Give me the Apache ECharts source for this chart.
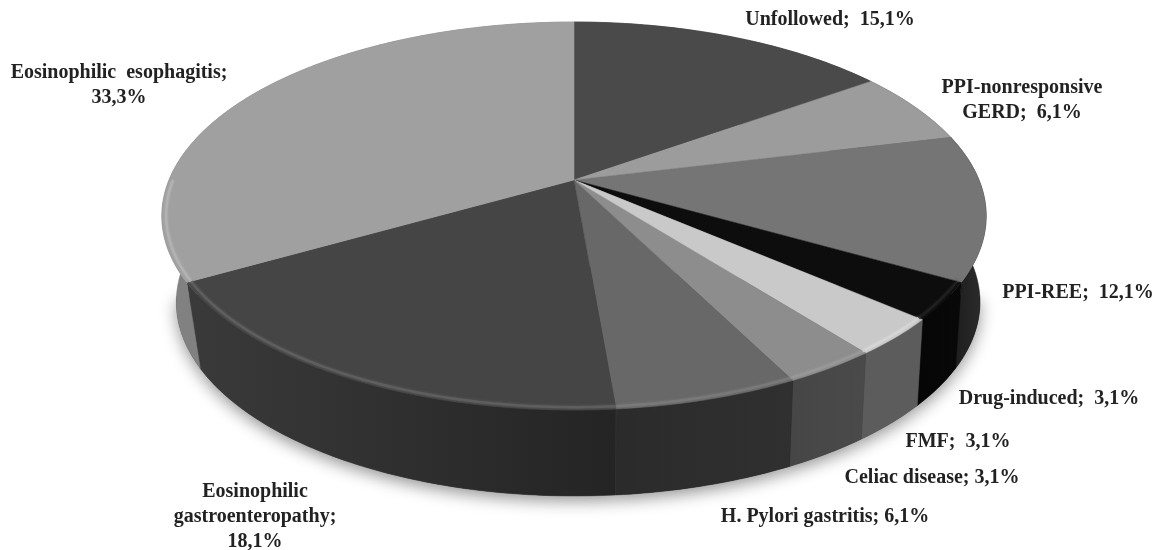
<!DOCTYPE html>
<html>
<head>
<meta charset="utf-8">
<script src="https://cdn.jsdelivr.net/npm/echarts@6/dist/echarts.min.js"></script>
<style>html,body{margin:0;padding:0;background:#fff}#chart{width:1165px;height:550px}</style>
</head>
<body>
<div id="chart"></div>
<script>
// Diagnoses and their share of patients, clockwise from twelve o'clock.
const categories = ['Unfollowed', 'PPI-nonresponsive\nGERD', 'PPI-REE', 'Drug-induced', 'FMF',
  'Celiac disease', 'H. Pylori gastritis', 'Eosinophilic\ngastroenteropathy', 'Eosinophilic  esophagitis'];
const values = [15.1, 6.1, 12.1, 3.1, 3.1, 3.1, 6.1, 18.1, 33.3];

// Greys for the top face, and left/right stops for the side wall of each slice.
const topColors = ['#4a4a4a', '#9c9c9c', '#757575', '#0d0d0d', '#c9c9c9', '#8d8d8d', '#686868', '#454545', '#a0a0a0'];
const wallColors = [['#333', '#333'], ['#555', '#555'], ['#181818', '#2e2e2e'], ['#060606', '#080808'],
  ['#5c5c5c', '#5c5c5c'], ['#464646', '#4a4a4a'], ['#2b2b2b', '#303030'], ['#3a3a3a', '#242424'], ['#828282', '#6e6e6e']];
const bevelColors = ['#4a4a4a', '#9c9c9c', '#757575', '#222222', '#d6d6d6', '#9a9a9a', '#7c7c7c', '#626262', '#b4b4b4'];

// Label anchors and the separator between name and percentage for each diagnosis.
const labelAnchors = [[830, 20], [1022, 100], [1078, 293], [1049, 399], [958, 442], [932, 478], [825, 517], [255, 517], [119, 85]];
const labelSeparators = ['  ', '  ', '  ', '  ', '  ', ' ', ' ', '\n', '\n'];

// Tilted-disc projection: a unit circle seen in perspective, apex off the ellipse centre.
const apex = [574, 180];
const tilt = 0.1856, scaleX = 405, scaleY = 187.3;
const wallDepth = 86, shrinkLeft = 0.965, shrinkRight = 0.985;

const total = values.reduce((a, b) => a + b, 0);
const starts = [];
values.reduce((acc, v, i) => { starts[i] = acc; return acc + v; }, 0);

function project(angle, radius, lowered) {
  const u = radius * Math.sin(angle), v = radius * Math.cos(angle), w = 1 + tilt * v;
  const x = scaleX * u / w, y = -scaleY * v / w;
  return lowered
    ? [apex[0] + x * (x < 0 ? shrinkLeft : shrinkRight), apex[1] + y + wallDepth]
    : [apex[0] + x, apex[1] + y];
}
function arc(a0, a1, radius, lowered) {
  const n = Math.max(2, Math.ceil((a1 - a0) / 0.015)), pts = [];
  for (let k = 0; k <= n; k++) pts.push(project(a0 + (a1 - a0) * k / n, radius, lowered));
  return pts;
}
function sliceAngles(i, v) {
  const a0 = starts[i] / total * 2 * Math.PI;
  return [a0, a0 + v / total * 2 * Math.PI];
}
const seriesData = values.map((v, i) => [i, v]);

// Soft cast shadow under the near part of the base only.
function renderShadow(params, api) {
  const i = api.value(0), [a0, a1] = sliceAngles(i, api.value(1));
  const from = Math.max(a0, Math.PI * 0.55), to = Math.min(a1, Math.PI * 1.45);
  if (to <= from) return { type: 'group', children: [] };
  return {
    type: 'polygon',
    shape: { points: [project(0, 0, true)].concat(arc(from, to, 1, true)) },
    style: { fill: '#333', shadowBlur: 16, shadowOffsetY: 5, shadowColor: 'rgba(0,0,0,0.42)' }
  };
}
function renderWall(params, api) {
  const i = api.value(0), [a0, a1] = sliceAngles(i, api.value(1));
  return {
    type: 'polygon',
    shape: { points: arc(a0, a1, 1, false).concat(arc(a0, a1, 1, true).reverse()) },
    style: {
      fill: new echarts.graphic.LinearGradient(0, 0, 1, 0, [
        { offset: 0, color: wallColors[i][0] }, { offset: 1, color: wallColors[i][1] }
      ]),
      stroke: wallColors[i][0], lineWidth: 0.5
    }
  };
}
function renderTop(params, api) {
  const i = api.value(0), [a0, a1] = sliceAngles(i, api.value(1));
  return {
    type: 'polygon',
    shape: { points: [project(0, 0, false)].concat(arc(a0, a1, 1, false)) },
    style: { fill: topColors[i], stroke: topColors[i], lineWidth: 0.5 }
  };
}
// Soft light edge along the near half of the rim.
function renderBevel(params, api) {
  const i = api.value(0), [a0, a1] = sliceAngles(i, api.value(1));
  const from = Math.max(a0, Math.PI * 0.66), to = Math.min(a1, Math.PI * 1.5);
  if (to <= from) return { type: 'group', children: [] };
  return {
    type: 'polyline',
    shape: { points: arc(from, to, 0.99, false) },
    style: { fill: null, stroke: bevelColors[i], lineWidth: 2.5, opacity: 0.8,
      shadowBlur: 3, shadowColor: bevelColors[i] }
  };
}
function renderLabel(params, api) {
  const i = api.value(0);
  const pct = api.value(1).toFixed(1).replace('.', ',') + '%';
  return {
    type: 'text',
    x: labelAnchors[i][0], y: labelAnchors[i][1],
    style: {
      text: categories[i] + ';' + labelSeparators[i] + pct,
      font: 'bold 20px "Liberation Serif"',
      fill: '#222', align: 'center', verticalAlign: 'middle', lineHeight: 25
    }
  };
}
const layer = (name, renderItem, z) => ({
  type: 'custom', name, coordinateSystem: 'none', renderItem, data: seriesData, z,
  animation: false, silent: true, clip: false
});

echarts.init(document.getElementById('chart'), null, { renderer: 'canvas' }).setOption({
  backgroundColor: '#fff',
  animation: false,
  series: [
    layer('shadow', renderShadow, 0),
    layer('walls', renderWall, 1),
    layer('tops', renderTop, 2),
    layer('bevel', renderBevel, 3),
    layer('labels', renderLabel, 4)
  ]
});
</script>
</body>
</html>
